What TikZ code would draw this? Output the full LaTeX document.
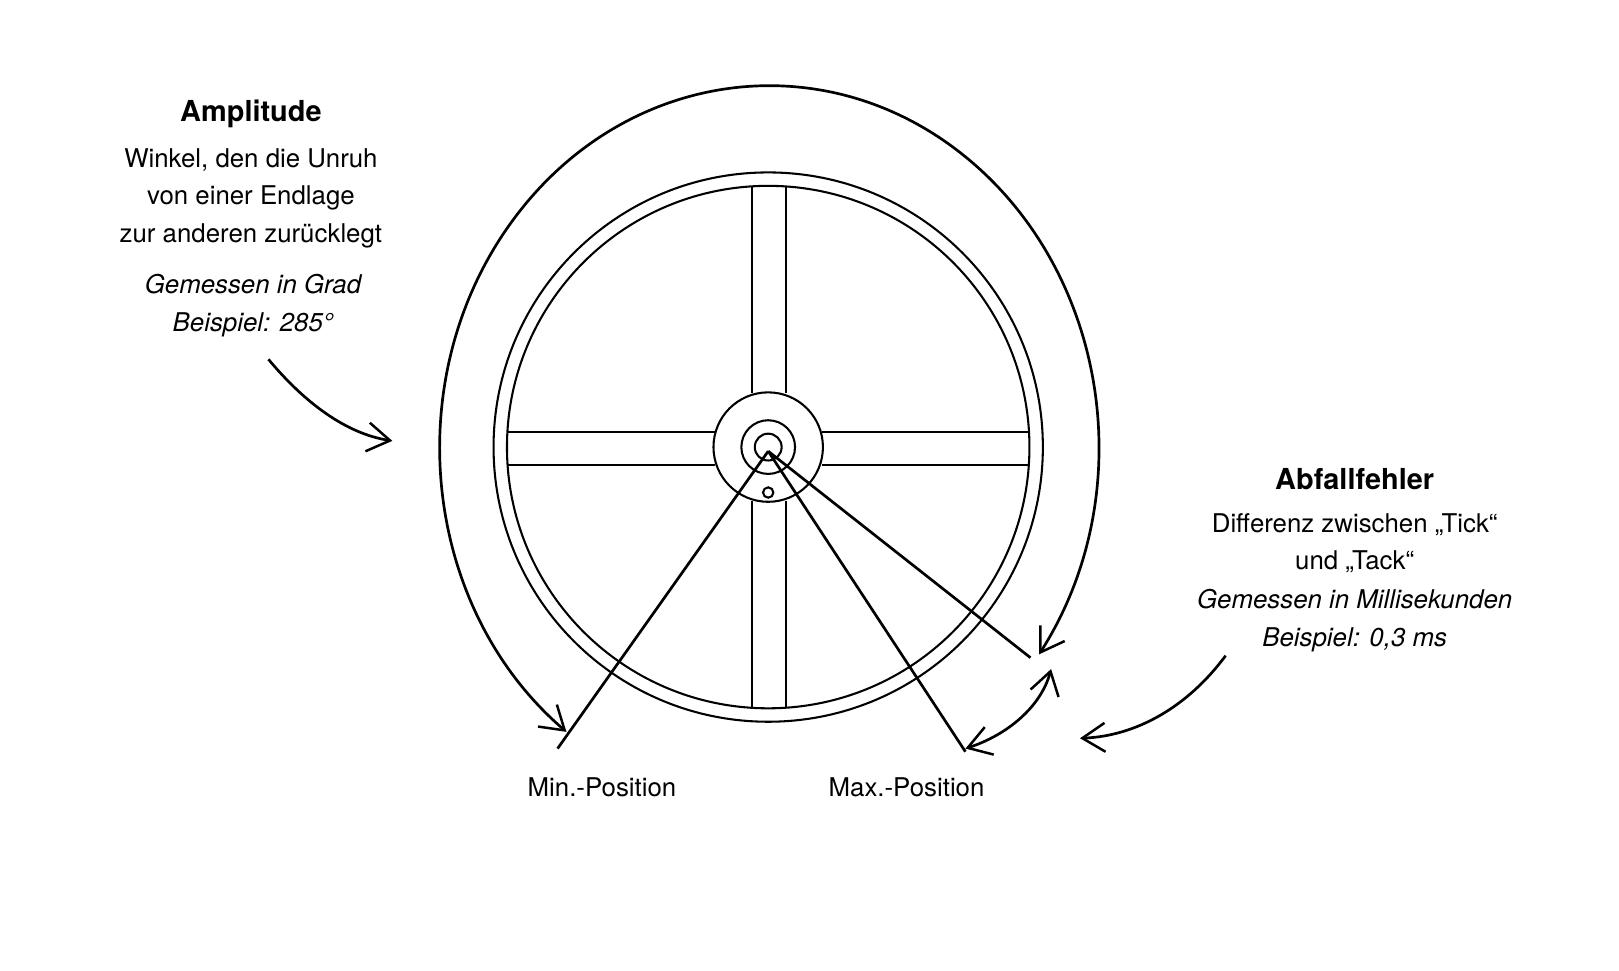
\documentclass[tikz,border=0pt]{standalone}
\usepackage{fontspec}
\setmainfont{TeX Gyre Heros}
\usetikzlibrary{arrows.meta}
\begin{document}
\begin{tikzpicture}[x=0.5pt,y=-0.5pt,
  thick/.style={line width=1.3pt},
  ring/.style={line width=1pt},
  barb/.style={-{Straight Barb[length=11pt,width=14pt,line width=1.2pt]}},
  barbs/.style={{Straight Barb[length=11pt,width=14pt,line width=1.2pt]}-{Straight Barb[length=11pt,width=14pt,line width=1.2pt]}},
  txt/.style={font=\fontsize{12.5}{15}\selectfont, align=center, inner sep=0pt},
  ttl/.style={font=\fontsize{14}{17}\selectfont\bfseries, inner sep=0pt},
  itl/.style={font=\fontsize{12.5}{15}\selectfont\itshape, align=center, inner sep=0pt}]
\useasboundingbox (0,0) rectangle (1568,940);
\fill[white] (0,0) rectangle (1568,940);
\coordinate (c) at (744,433);
% wheel rims
\draw[ring] (c) circle[radius=266];
\draw[ring] (c) circle[radius=253];
\draw[ring] (c) circle[radius=53];
\draw[ring] (c) circle[radius=26];
\draw[ring] (c) circle[radius=13];
\draw[ring] (744,477) circle[radius=5];
% spokes
\draw[ring] (728,180) -- (728,381) (761,180) -- (761,381);
\draw[ring] (728,485) -- (728,686) (761,485) -- (761,686);
\draw[ring] (492,418) -- (692,418) (492,450) -- (692,450);
\draw[ring] (796,418) -- (996,418) (796,450) -- (996,450);
% positions
\coordinate (p) at (744,437);
\coordinate (minp) at (540,725);
\coordinate (maxp) at (935,728);
\coordinate (maxq) at (998,637);
\draw[thick] (p) -- (minp);
\draw[thick] (p) -- (maxp);
\draw[thick] (p) -- (maxq);
% amplitude arc
\draw[thick,barbs] (745,433) ++(128:319 and 350) arc[start angle=128,end angle=395,x radius=319,y radius=350];
% small arc
\coordinate (sa) at (935,725);
\coordinate (sb) at (1018,648);
\draw[thick,barbs] (sa) .. controls (975,712) and (1008,685) .. (sb);
% text
\node[ttl] (t1) at (243,110) {Amplitude};
\node[txt] (t1a) at (243,192) {Winkel, den die Unruh\\[3pt]von einer Endlage\\[3pt]zur anderen zurücklegt};
\node[itl] (t1b) at (245,296) {Gemessen in Grad\\[3pt]Beispiel: 285°};
\node[ttl] (t2) at (1312,464) {Abfallfehler};
\node[txt] (t2a) at (1312,526) {Differenz zwischen „Tick“\\[3pt]und „Tack“};
\node[itl] (t2b) at (1312,601) {Gemessen in Millisekunden\\[3pt]Beispiel: 0,3 ms};
\node[txt] (l1) at (583,762) {Min.-Position};
\node[txt] (l2) at (878,762) {Max.-Position};
\coordinate (a1s) at (260,348);
\coordinate (a1e) at (380,427);
\coordinate (a2s) at (1187,635);
\coordinate (a2e) at (1046,715);
\draw[thick,barb] (a1s) .. controls (295,390) and (335,420) .. (a1e);
\draw[thick,barb] (a2s) .. controls (1150,685) and (1100,713) .. (a2e);
\end{tikzpicture}
\end{document}
